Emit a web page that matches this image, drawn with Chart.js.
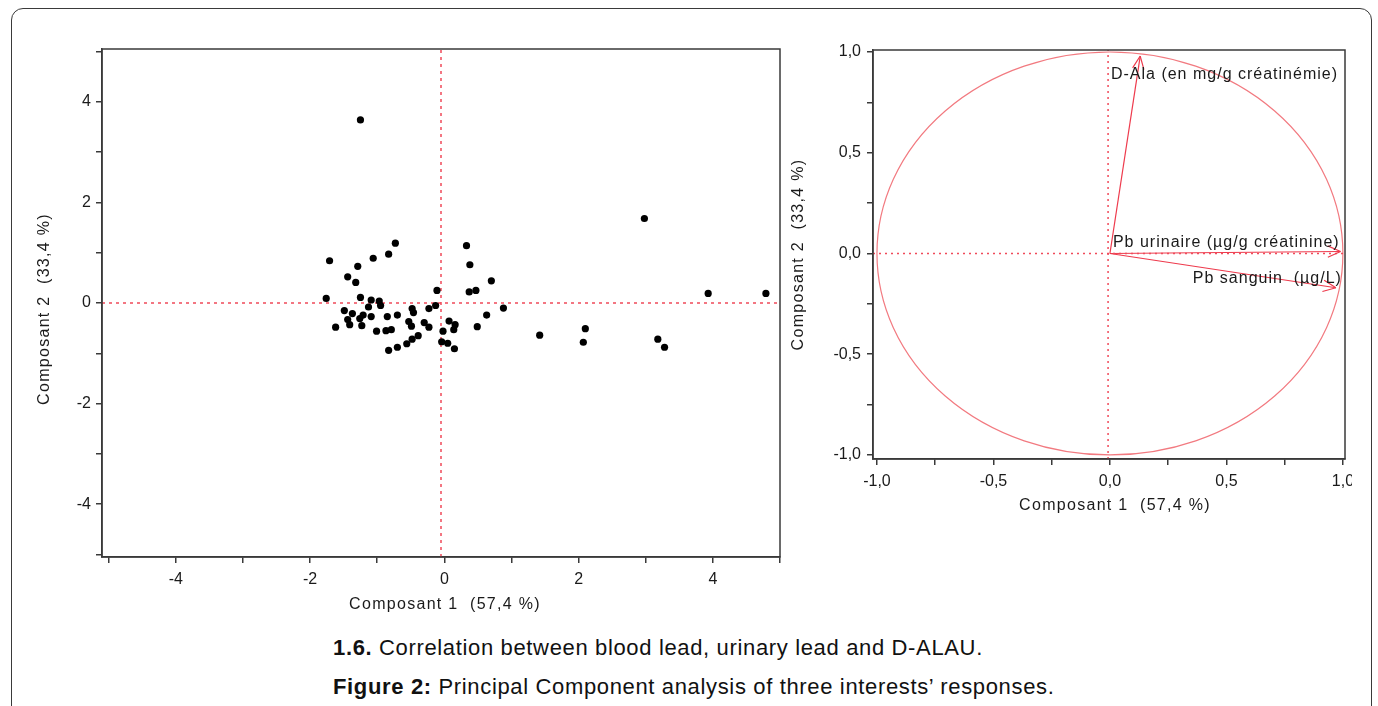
<!DOCTYPE html>
<html><head><meta charset="utf-8">
<script src="https://cdn.jsdelivr.net/npm/chart.js@4.4.1/dist/chart.umd.min.js"></script>
<style>
html,body{margin:0;padding:0;background:#fff;width:1378px;height:706px;overflow:hidden;font-family:"Liberation Sans",Arial,sans-serif;}
#frame{position:absolute;left:11px;top:8px;width:1361px;height:760px;border:1.5px solid #3a3a3a;border-radius:12px;box-sizing:border-box;}
#left{position:absolute;left:0;top:0;}
#rightWrap{position:absolute;left:790px;top:0;width:562px;height:530px;overflow:hidden;}
#right{position:absolute;left:0;top:0;}
.cap{position:absolute;left:333px;font-size:22px;letter-spacing:0.65px;color:#111;white-space:nowrap;line-height:26px;}
</style></head><body>
<div id="frame"></div>
<canvas id="left" width="790" height="630"></canvas>
<div id="rightWrap"><canvas id="right" width="588" height="530"></canvas></div>
<div class="cap" style="top:635px"><b>1.6.</b> Correlation between blood lead, urinary lead and D-ALAU.</div>
<div class="cap" style="top:674px"><b>Figure 2:</b> Principal Component analysis of three interests’ responses.</div>
<script>
// ---------- data ----------
const scoreX = [-1.25,
  -1.71,-1.29,-1.06,-0.83,-0.73,-1.44,-1.32,-1.76,-1.25,-1.09,
  -0.97,-0.95,-1.13,-1.49,-1.37,-1.21,-1.26,-1.09,-1.44,-1.41,
  -1.23,-1.62,-0.85,-0.70,-1.01,-0.87,-0.79,-0.48,-0.46,-0.23,
  -0.13,-0.11,-0.53,-0.49,-0.30,-0.23,-0.39,-0.48,-0.56,-0.70,
  -0.83,-0.02,0.07,0.16,0.14,-0.04,0.05,0.15,0.33,0.38,
  0.70,0.37,0.47,0.88,0.63,0.49,1.42,
  2.98,3.93,4.79,2.10,2.07,3.18,3.28];
const scoreY = [3.64,
  0.84,0.73,0.89,0.97,1.19,0.52,0.41,0.09,0.11,0.06,
  0.04,-0.05,-0.08,-0.15,-0.21,-0.24,-0.31,-0.27,-0.33,-0.43,
  -0.45,-0.48,-0.27,-0.24,-0.56,-0.55,-0.53,-0.11,-0.19,-0.11,
  -0.05,0.25,-0.37,-0.46,-0.39,-0.48,-0.65,-0.72,-0.81,-0.88,
  -0.94,-0.56,-0.36,-0.43,-0.53,-0.77,-0.80,-0.91,1.14,0.76,
  0.44,0.22,0.25,-0.10,-0.24,-0.47,-0.64,
  1.68,0.19,0.19,-0.51,-0.78,-0.72,-0.88];
const loadingNames = ['D-Ala (en mg/g créatinémie)', 'Pb urinaire (µg/g créatinine)', 'Pb sanguin  (µg/L)'];
const loadingX = [0.13, 0.99, 0.97];
const loadingY = [0.98, 0.01, -0.17];
const leftTicks = [-5,-4,-3,-2,-1,0,1,2,3,4,5];
const rightTicks = [-1,-0.75,-0.5,-0.25,0,0.25,0.5,0.75,1];
const titleX = 'Composant 1  (57,4 %)';
const titleY = 'Composant 2  (33,4 %)';
const leftRange = {xmin:-5.1, xmax:5.0, ymin:-5.05, ymax:5.05};
const rightRange = {xmin:-1.017, xmax:1.009, ymin:-1.02, ymax:1.01};
const leftRef = {x:-0.05, y:0};
const rightRef = {x:-0.008, y:0};
const circleRadius = 1;

// ---------- styles ----------
const FONT = '"Liberation Sans", Arial, sans-serif';
const AXIS = '#3a3a3a';
const TEXT = '#1a1a1a';
const DOT = '#f04a5a';
const ARROW = '#ee3a4c';
const CIRCLE = '#f27a80';

Chart.defaults.font.family = FONT;
Chart.defaults.color = TEXT;

const framePlugin = {
  id: 'frameTitles',
  afterDraw(chart, args, o) {
    const {ctx, chartArea: a} = chart;
    ctx.save();
    ctx.strokeStyle = AXIS; ctx.lineWidth = 1.5;
    ctx.strokeRect(a.left, a.top, a.right - a.left, a.bottom - a.top);
    ctx.fillStyle = TEXT;
    ctx.font = '16px ' + FONT;
    ctx.letterSpacing = o.spacing + 'px';
    ctx.textAlign = 'center'; ctx.textBaseline = 'middle';
    ctx.fillText(o.xTitle, (a.left + a.right) / 2 + o.xShift, o.xTitleY);
    ctx.translate(o.yTitleX, (a.top + a.bottom) / 2 + o.yShift);
    ctx.rotate(-Math.PI / 2);
    ctx.fillText(o.yTitle, 0, 0);
    ctx.restore();
  }
};

function fixedTicks(vals) {
  return (s) => { s.ticks = vals.map(v => ({value: v})); };
}
function axisCommon(extra) {
  return Object.assign({
    type: 'linear',
    grid: {drawOnChartArea: false, drawTicks: true, tickLength: 6, color: AXIS, lineWidth: 1.5},
    border: {display: true, color: AXIS, width: 1.5},
  }, extra);
}

// ---------- left chart: scores ----------
const scatterData = scoreX.map((x, i) => ({x, y: scoreY[i]}));
new Chart(document.getElementById('left'), {
  type: 'scatter',
  data: {datasets: [
    {type: 'line', data: [{x: leftRange.xmin, y: leftRef.y}, {x: leftRange.xmax, y: leftRef.y}], borderColor: DOT, borderWidth: 1.5, borderDash: [3, 4], pointRadius: 0, order: 2},
    {type: 'line', data: [{x: leftRef.x, y: leftRange.ymin}, {x: leftRef.x, y: leftRange.ymax}], borderColor: DOT, borderWidth: 1.5, borderDash: [3, 4], pointRadius: 0, order: 2},
    {data: scatterData, backgroundColor: '#000', borderWidth: 0, pointRadius: 3.6, pointHoverRadius: 3.6, order: 1}
  ]},
  options: {
    responsive: false, animation: false, devicePixelRatio: 1,
    layout: {padding: {top: 49, right: 10, left: 0, bottom: 0}},
    plugins: {legend: {display: false}, tooltip: {enabled: false},
      frameTitles: {xTitle: titleX, yTitle: titleY, xTitleY: 605, yTitleX: 45, xShift: 4, yShift: 6, spacing: 1.3}},
    scales: {
      x: axisCommon({min: leftRange.xmin, max: leftRange.xmax, afterBuildTicks: fixedTicks(leftTicks),
        afterFit: (s) => { s.height = 73; s.paddingLeft = 0; s.paddingRight = 0; },
        ticks: {font: {size: 16}, color: TEXT, padding: 7, maxRotation: 0, autoSkip: false,
          callback: (v) => (v % 2 === 0 ? String(v) : '')}}),
      y: axisCommon({min: leftRange.ymin, max: leftRange.ymax, afterBuildTicks: fixedTicks(leftTicks),
        afterFit: (s) => { s.width = 102; },
        ticks: {font: {size: 16}, color: TEXT, padding: 5, autoSkip: false,
          callback: (v) => (v % 2 === 0 ? String(v) : '')}})
    }
  },
  plugins: [framePlugin]
});

// ---------- right chart: correlation circle ----------
const circlePlugin = {
  id: 'circleArrows',
  beforeDatasetsDraw(chart) {
    const {ctx, scales: {x, y}} = chart;
    const cx = x.getPixelForValue(0), cy = y.getPixelForValue(0);
    const rx = x.getPixelForValue(circleRadius) - cx;
    const ry = cy - y.getPixelForValue(circleRadius);
    ctx.save();
    ctx.strokeStyle = CIRCLE; ctx.lineWidth = 1.2;
    ctx.beginPath(); ctx.ellipse(cx, cy, rx, ry, 0, 0, Math.PI * 2); ctx.stroke();
    ctx.restore();
  },
  afterDatasetsDraw(chart, args, o) {
    const {ctx, scales: {x, y}} = chart;
    const ox = x.getPixelForValue(0), oy = y.getPixelForValue(0);
    ctx.save();
    ctx.strokeStyle = ARROW; ctx.lineWidth = 1.2;
    loadingX.forEach((lx, i) => {
      const tx = x.getPixelForValue(lx), ty = y.getPixelForValue(loadingY[i]);
      const th = Math.atan2(ty - oy, tx - ox);
      ctx.beginPath();
      [0.42, -0.42].forEach(d => {
        ctx.moveTo(tx, ty);
        ctx.lineTo(tx + o.head * Math.cos(th + Math.PI + d), ty + o.head * Math.sin(th + Math.PI + d));
      });
      ctx.stroke();
    });
    ctx.fillStyle = TEXT;
    ctx.font = '16px ' + FONT;
    ctx.letterSpacing = '1px';
    ctx.textBaseline = 'middle';
    o.labels.forEach((L, i) => {
      ctx.textAlign = L.align;
      ctx.fillText(loadingNames[i], x.getPixelForValue(L.x) + L.dx, y.getPixelForValue(L.y));
    });
    ctx.restore();
  }
};

const fmt = (v) => (Math.abs(v * 2 - Math.round(v * 2)) < 1e-9 ? (v === 0 ? '0,0' : v.toFixed(1).replace('.', ',')) : '');
const arrowSets = loadingX.map((lx, i) => ({type: 'line', data: [{x: 0, y: 0}, {x: lx, y: loadingY[i]}],
  borderColor: ARROW, borderWidth: 1.2, pointRadius: 0}));
new Chart(document.getElementById('right'), {
  type: 'scatter',
  data: {datasets: [
    {type: 'line', data: [{x: rightRange.xmin, y: rightRef.y}, {x: rightRange.xmax, y: rightRef.y}], borderColor: DOT, borderWidth: 1.5, borderDash: [2, 4], pointRadius: 0},
    {type: 'line', data: [{x: rightRef.x, y: rightRange.ymin}, {x: rightRef.x, y: rightRange.ymax}], borderColor: DOT, borderWidth: 1.5, borderDash: [2, 4], pointRadius: 0},
    ...arrowSets
  ]},
  options: {
    responsive: false, animation: false, devicePixelRatio: 1,
    layout: {padding: {top: 50, right: 33, left: 0, bottom: 0}},
    plugins: {legend: {display: false}, tooltip: {enabled: false},
      frameTitles: {xTitle: titleX, yTitle: titleY, xTitleY: 506, yTitleX: 9, xShift: 6, yShift: 0, spacing: 1.3},
      circleArrows: {head: 14, labels: [
        {x: 0, y: 0.89, dx: 1, align: 'left'},
        {x: 0, y: 0.055, dx: 3, align: 'left'},
        {x: 1, y: -0.125, dx: -1, align: 'right'}
      ]}},
    scales: {
      x: axisCommon({min: rightRange.xmin, max: rightRange.xmax, afterBuildTicks: fixedTicks(rightTicks),
        afterFit: (s) => { s.height = 71; s.paddingLeft = 0; s.paddingRight = 0; },
        ticks: {font: {size: 16}, color: TEXT, padding: 7, maxRotation: 0, autoSkip: false, callback: fmt}}),
      y: axisCommon({min: rightRange.ymin, max: rightRange.ymax, afterBuildTicks: fixedTicks(rightTicks),
        afterFit: (s) => { s.width = 83; },
        ticks: {font: {size: 16}, color: TEXT, padding: 6, autoSkip: false, callback: fmt}})
    }
  },
  plugins: [framePlugin, circlePlugin]
});
</script>
</body></html>
